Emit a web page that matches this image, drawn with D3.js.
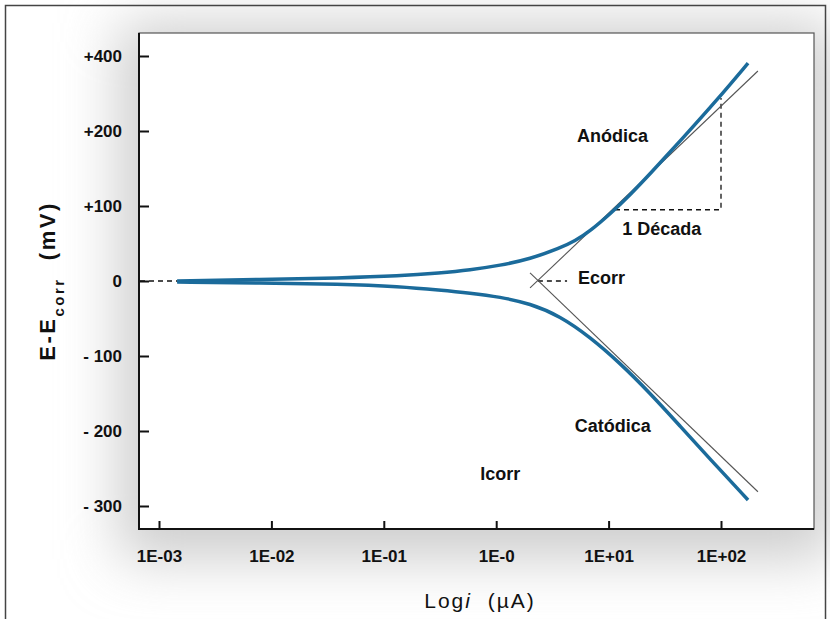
<!DOCTYPE html>
<html>
<head>
<meta charset="utf-8">
<script src="https://cdn.jsdelivr.net/npm/d3@7"></script>
<style>
  body { margin: 0; background: #fff; }
  text { font-family: "Liberation Sans", Arial, sans-serif; }
</style>
</head>
<body>
<script>
//canvas size
var w = 830, h = 619;

//tick values and labels (the y axis is evenly spaced, not linear)
var yTickValues = [400, 200, 100, 0, -100, -200, -300];
var yTickLabels = ["+400", "+200", "+100", "0", "- 100", "- 200", "- 300"];
var xTickValues = [1e-3, 1e-2, 1e-1, 1, 10, 100];
var xTickLabels = ["1E-03", "1E-02", "1E-01", "1E-0", "1E+01", "1E+02"];

//anodic branch (current in uA, E-Ecorr in mV)
var anodicI = [0.00145, 0.0079, 0.0408, 0.139, 0.316, 0.585, 1.08, 2.0, 3.7, 5.02, 6.84, 10.3, 15.5, 23.3, 45.9, 92.1, 174];
var anodicE = [0, 2, 4, 6.7, 10.7, 14.7, 20.7, 29.3, 44, 53.3, 66.7, 89.3, 114.7, 142.7, 190.7, 282.7, 381];

//cathodic branch
var cathodicI = [0.00145, 0.0079, 0.0408, 0.139, 0.316, 0.585, 1.08, 2.0, 3.7, 6.84, 12.6, 23.3, 43.2, 79.8, 174];
var cathodicE = [-1.3, -2.7, -4, -7.3, -12, -16, -21.3, -30, -46.7, -74.7, -109.3, -149.3, -193.3, -237.3, -292];

//Tafel lines (two ends each)
var tafelAnodicI = [2.0, 213], tafelAnodicE = [-9.3, 360];
var tafelCathodicI = [2.0, 213], tafelCathodicE = [10.7, -281];

//dashed helpers
var ecorrI = [2.35, 4.27];          //Ecorr marker, at E = 0
var zeroI = [0.00145];              //dashed zero line from the axis to the curve start
var decadeI = [11.4, 100], decadeE = [95, 288];

//annotations [label, i, E]
var notes = [
    ["Anódica", 5.24, 185],
    ["1 Década", 13.2, 61],
    ["Ecorr", 5.35, -4],
    ["Catódica", 5.0, -201],
    ["Icorr", 0.72, -265]
];

window.onload = function(){

    var svg = d3.select("body").append("svg")
        .attr("width", w)
        .attr("height", h);

    //plot box
    var left = 139, right = 814, top = 33, bottom = 529;

    var x = d3.scaleLog().domain([1e-3, 1e2]).range([159, 721]);
    var y = d3.scaleLinear()
        .domain(yTickValues)
        .range([56, 131, 206, 281, 356, 431, 506]);

    //soft shadow around the plot
    var defs = svg.append("defs");
    defs.append("filter").attr("id", "blur")
        .attr("x", "-30%").attr("y", "-30%").attr("width", "160%").attr("height", "160%")
        .append("feGaussianBlur").attr("stdDeviation", 28);

    svg.append("rect")
        .attr("x", left - 20).attr("y", top - 10)
        .attr("width", right - left + 40).attr("height", bottom - top + 40)
        .style("fill", "#cdcdcd")
        .attr("filter", "url(#blur)");

    //outer frame
    svg.append("rect")
        .attr("x", 5.5).attr("y", 5.5)
        .attr("width", 820).attr("height", 640)
        .style("fill", "none")
        .style("stroke", "#444")
        .style("stroke-width", 1.5);

    svg.append("rect")
        .attr("x", left).attr("y", top)
        .attr("width", right - left).attr("height", bottom - top)
        .style("fill", "#fff")
        .style("stroke", "#555")
        .style("stroke-width", 1.2);

    //axes
    var yAxis = d3.axisLeft(y)
        .tickValues(yTickValues)
        .tickFormat(function(d, i){ return yTickLabels[i]; })
        .tickSizeInner(-10).tickSizeOuter(0).tickPadding(17);

    var xAxis = d3.axisBottom(x)
        .tickValues(xTickValues)
        .tickFormat(function(d, i){ return xTickLabels[i]; })
        .tickSizeInner(-8).tickSizeOuter(0).tickPadding(21);

    var gy = svg.append("g").attr("transform", "translate(" + left + ",0)").call(yAxis);
    var gx = svg.append("g").attr("transform", "translate(0," + bottom + ")").call(xAxis);

    [gx, gy].forEach(function(g){
        g.select(".domain").remove();
        g.selectAll("line").style("stroke", "#111").style("stroke-width", 2);
        g.selectAll("text")
            .style("font-size", "17px")
            .style("font-weight", "bold")
            .style("fill", "#111");
    });

    //axis lines
    svg.append("line").attr("x1", left).attr("x2", left).attr("y1", top).attr("y2", bottom + 1)
        .style("stroke", "#111").style("stroke-width", 2);
    svg.append("line").attr("x1", left - 1).attr("x2", right).attr("y1", bottom).attr("y2", bottom)
        .style("stroke", "#111").style("stroke-width", 2);

    var line = d3.line()
        .x(function(d){ return x(d[0]); })
        .y(function(d){ return y(d[1]); });

    var smooth = d3.line()
        .x(function(d){ return x(d[0]); })
        .y(function(d){ return y(d[1]); })
        .curve(d3.curveBasis);

    //dashed helpers
    var dash = "5,4";
    svg.append("line")
        .attr("x1", left + 1).attr("x2", x(zeroI[0]))
        .attr("y1", y(0)).attr("y2", y(0))
        .style("stroke", "#111").style("stroke-width", 1.3).style("stroke-dasharray", dash);

    svg.append("line")
        .attr("x1", x(ecorrI[0])).attr("x2", x(ecorrI[1]))
        .attr("y1", y(0)).attr("y2", y(0))
        .style("stroke", "#111").style("stroke-width", 1.3).style("stroke-dasharray", dash);

    svg.append("path")
        .attr("d", line([[decadeI[0], decadeE[0]], [decadeI[1], decadeE[0]], [decadeI[1], decadeE[1]]]))
        .style("fill", "none")
        .style("stroke", "#111").style("stroke-width", 1.3).style("stroke-dasharray", dash);

    //Tafel lines
    svg.append("path")
        .attr("d", line(d3.zip(tafelAnodicI, tafelAnodicE)))
        .style("stroke", "#555").style("stroke-width", 1.1).style("fill", "none");
    svg.append("path")
        .attr("d", line(d3.zip(tafelCathodicI, tafelCathodicE)))
        .style("stroke", "#555").style("stroke-width", 1.1).style("fill", "none");

    //polarization curves
    svg.append("path")
        .attr("d", smooth(d3.zip(anodicI, anodicE)))
        .style("fill", "none").style("stroke", "#1b6b9b").style("stroke-width", 3.5);
    svg.append("path")
        .attr("d", smooth(d3.zip(cathodicI, cathodicE)))
        .style("fill", "none").style("stroke", "#1b6b9b").style("stroke-width", 3.5);

    //annotations
    svg.selectAll(".note").data(notes).enter().append("text")
        .attr("class", "note")
        .attr("x", function(d){ return x(d[1]); })
        .attr("y", function(d){ return y(d[2]); })
        .text(function(d){ return d[0]; })
        .style("font-size", "18px")
        .style("font-weight", "bold")
        .style("fill", "#111");

    //axis titles
    var xt = svg.append("text")
        .attr("x", 480).attr("y", 608)
        .attr("text-anchor", "middle")
        .style("font-size", "21px")
        .style("letter-spacing", "2px")
        .style("fill", "#111");
    xt.append("tspan").text("Log");
    xt.append("tspan").style("font-style", "italic").text("i");
    xt.append("tspan").text("\u00a0 (\u00b5A)");

    var yt = svg.append("text")
        .attr("transform", "translate(55,281) rotate(-90)")
        .attr("text-anchor", "middle")
        .style("font-size", "22px")
        .style("font-weight", "bold")
        .style("letter-spacing", "2.5px")
        .style("fill", "#111");
    yt.append("tspan").text("E-E");
    yt.append("tspan").attr("baseline-shift", "sub").style("font-size", "15px").text("corr");
    yt.append("tspan").text("\u00a0 (mV)");
};
</script>
</body>
</html>
